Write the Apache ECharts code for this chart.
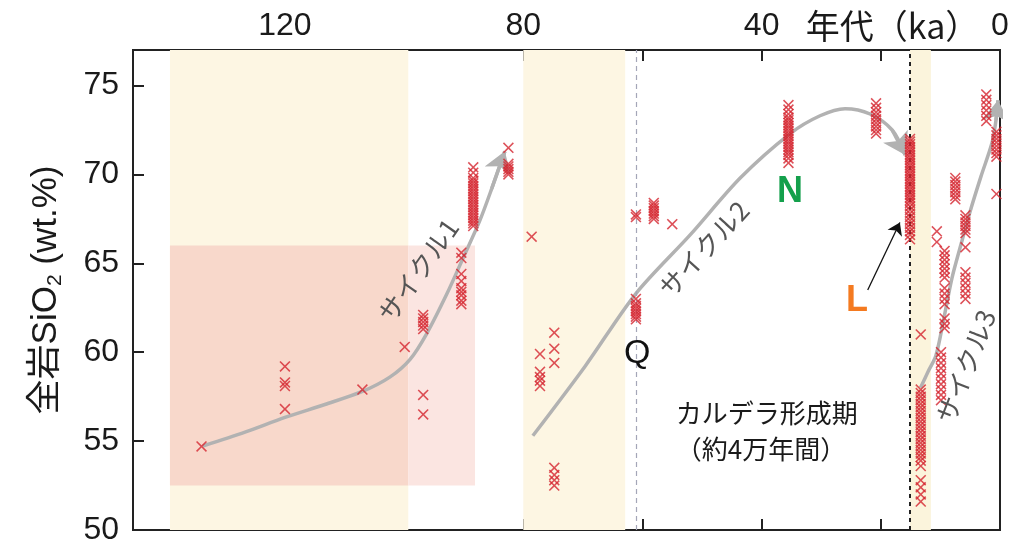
<!DOCTYPE html>
<html>
<head>
<meta charset="utf-8">
<script src="https://cdn.jsdelivr.net/npm/echarts@6/dist/echarts.min.js"></script>
<style>
  html, body { margin: 0; padding: 0; background: #fff; }
  #chart { width: 1036px; height: 546px; }
</style>
</head>
<body>
<div id="chart"></div>
<script>
// Eruption ages (ka) of the sampled units and their whole-rock SiO2 (wt.%)
const unitAges = [134.0, 120.0, 107.0, 99.9, 96.8, 90.4, 88.4, 82.5, 78.6, 77.2, 74.8,
                  61.1, 58.1, 55.0, 35.5, 20.8, 15.1, 13.3, 10.6, 9.3, 9.9, 7.5, 5.8, 2.3, 0.6];
const unitSiO2 = [
  [54.7],
  [59.2, 58.3, 58.1, 56.8],
  [57.9],
  [60.3],
  [62.1, 61.9, 61.7, 61.5, 61.3, 57.6, 56.5],
  [65.6, 65.3, 64.4, 64.0, 63.6, 63.4, 63.2, 62.9, 62.7],
  [70.4, 70.1, 69.8, 69.65, 69.5, 69.35, 69.2, 69.05, 68.9, 68.75, 68.6, 68.45, 68.3, 68.15, 68.0, 67.85, 67.7, 67.55, 67.4, 67.25, 67.1],
  [71.5, 70.6, 70.45, 70.3, 70.15, 70.0],
  [66.5],
  [59.9, 58.9, 58.6, 58.4, 58.1],
  [61.1, 60.2, 59.4, 53.5, 53.1, 52.8, 52.5],
  [67.75, 67.6, 63.0, 62.75, 62.6, 62.45, 62.3, 62.15, 62.0, 61.85],
  [68.4, 68.25, 68.1, 67.95, 67.8, 67.65, 67.5],
  [67.2],
  [73.9, 73.65, 73.4, 73.2, 73.05, 72.9, 72.75, 72.6, 72.45, 72.3, 72.15, 72.0, 71.85, 71.7, 71.55, 71.4, 71.25, 71.1, 70.9, 70.65],
  [74.0, 73.75, 73.5, 73.3, 73.1, 72.9, 72.7, 72.5, 72.3],
  [72.0, 71.85, 71.7, 71.55, 71.4, 71.25, 71.1, 70.95, 70.8, 70.65, 70.5, 70.35, 70.2, 70.05, 69.9, 69.75, 69.6, 69.45, 69.3, 69.15, 69.0, 68.85, 68.7, 68.55, 68.4, 68.2, 68.0, 67.8, 67.6, 67.4, 67.2, 67.0, 66.8, 66.6, 66.35],
  [61.0, 57.9, 57.7, 57.5, 57.3, 57.1, 56.9, 56.7, 56.5, 56.3, 56.1, 55.9, 55.7, 55.5, 55.3, 55.1, 54.9, 54.7, 54.5, 54.3, 54.1, 53.9, 53.6, 52.8, 52.4, 52.0, 51.6],
  [66.8, 66.2],
  [65.7, 65.45, 65.2, 64.95, 64.7, 64.45, 64.2, 63.6, 63.3, 63.0, 62.7, 61.9, 61.6, 61.35],
  [60.0, 59.7, 59.4, 59.1, 58.8, 58.5, 58.2, 57.9, 57.6, 57.3],
  [69.8, 69.6, 69.4, 69.2, 69.0, 68.8, 68.6],
  [67.7, 67.5, 67.3, 67.1, 66.9, 66.7, 65.9, 64.5, 64.2, 63.9, 63.6, 63.3, 63.0],
  [74.5, 74.2, 73.9, 73.6, 73.3, 73.0],
  [72.4, 72.2, 72.0, 71.8, 71.6, 71.4, 71.2, 71.0, 68.9]
];

// Trend paths of the three magmatic cycles [age, SiO2]
const cycle1Path = [[133.8, 54.72], [126.7, 55.5], [120.0, 56.33], [113.3, 57.06], [107.1, 57.78], [102.4, 58.6],
                    [99.0, 59.6], [96.2, 61.05], [92.8, 63.3], [90.1, 65.3], [87.3, 67.4], [85.3, 69.2], [83.1, 71.3]];
const cycle2Path = [[78.4, 55.3], [69.65, 59.2], [61.1, 63.3], [52.0, 66.6], [43.6, 69.8], [35.2, 72.3],
                    [30.2, 73.3], [26.0, 73.7], [21.8, 73.4], [18.1, 72.5], [15.9, 71.1]];
const cycle3Path = [[13.34, 58.0], [12.08, 58.9], [10.74, 59.83], [9.4, 61.94], [8.06, 64.17], [6.55, 66.06],
                    [5.04, 67.89], [3.19, 69.89], [1.34, 71.78], [0.67, 73.06], [0.34, 74.17]];

// Shaded age intervals [from, to] (ka)
const activeBand1 = [139.3, 99.3];
const activeBand2 = [80.0, 62.9];
const activeBand3 = [15.1, 11.6];
const maficBox = { ages: [139.3, 99.3, 88.1], sio2: [52.5, 66.0] };

// Reference ages marked with vertical lines
const markerQ = 61.1;
const markerL = 15.1;
const pointerL = [[22.2, 63.5], [16.8, 67.3]];

// Axis ticks and labels
const ageTicks = [0, 20, 40, 60, 80, 100, 120];
const ageLabels = [0, 40, 80, 120];
const sio2Ticks = [50, 55, 60, 65, 70, 75];

const samples = [];
unitAges.forEach((a, i) => unitSiO2[i].forEach(v => samples.push([a, v])));

const CROSS = 'path://M0,2L2,0L10,8L18,0L20,2L12,10L20,18L18,20L10,12L2,20L0,18L8,10Z';
const NUM_FONT = '"Liberation Sans", Arial, "Noto Sans CJK JP", sans-serif';
const JP_FONT = '"Noto Sans CJK JP", sans-serif';
const CURVE = '#b2b2b2';
const AXIS = '#222';

const baseX = {
  type: 'value', inverse: true, min: 0, max: 145.5,
  axisLine: { show: true, onZero: false, lineStyle: { color: AXIS, width: 2 } },
  axisTick: { show: true, inside: true, length: 11, customValues: ageTicks, lineStyle: { color: AXIS, width: 2 } },
  splitLine: { show: false }
};

const chart = echarts.init(document.getElementById('chart'));

const curveSeries = (path) => ({
  type: 'line', data: path, smooth: 0.3, showSymbol: false, symbol: 'none', z: 3,
  lineStyle: { color: CURVE, width: 3.5 }, silent: true
});

chart.setOption({
  animation: false,
  backgroundColor: '#fff',
  grid: { left: 133, right: 36, top: 50, bottom: 11, show: true, borderColor: AXIS, borderWidth: 2, backgroundColor: 'transparent' },
  xAxis: [
    Object.assign({}, baseX, {
      position: 'top',
      axisLabel: { margin: 8, fontSize: 32, color: '#1a1a1a', fontFamily: NUM_FONT, customValues: ageLabels }
    }),
    Object.assign({}, baseX, { position: 'bottom', axisLabel: { show: false } })
  ],
  yAxis: [
    {
      type: 'value', min: 50, max: 77, position: 'left',
      name: '全岩SiO{sub|2} (wt.%)', nameLocation: 'middle', nameGap: 67,
      nameTextStyle: {
        fontSize: 35, color: '#1a1a1a', fontFamily: NUM_FONT,
        rich: { sub: { fontSize: 21, color: '#1a1a1a', fontFamily: NUM_FONT, padding: [18, 0, 0, 0] } }
      },
      axisLine: { show: true, onZero: false, lineStyle: { color: AXIS, width: 2 } },
      axisTick: { show: true, inside: true, length: 11, customValues: sio2Ticks, lineStyle: { color: AXIS, width: 2 } },
      axisLabel: { margin: 14, fontSize: 32, color: '#1a1a1a', fontFamily: NUM_FONT, customValues: sio2Ticks },
      splitLine: { show: false }
    }
  ],
  series: [
    {
      // shaded periods and reference lines
      type: 'line', data: [], z: 1, silent: true,
      markArea: {
        silent: true,
        data: [
          [{ xAxis: activeBand1[0], yAxis: 50, itemStyle: { color: '#fdf6e3' } }, { xAxis: activeBand1[1], yAxis: 77 }],
          [{ xAxis: maficBox.ages[0], yAxis: maficBox.sio2[0], itemStyle: { color: '#f8d8cb' } }, { xAxis: maficBox.ages[1], yAxis: maficBox.sio2[1] }],
          [{ xAxis: maficBox.ages[1], yAxis: maficBox.sio2[0], itemStyle: { color: '#fbe5e1' } }, { xAxis: maficBox.ages[2], yAxis: maficBox.sio2[1] }],
          [{ xAxis: activeBand2[0], yAxis: 50, itemStyle: { color: '#fdf6e3' } }, { xAxis: activeBand2[1], yAxis: 77 }],
          [{ xAxis: activeBand3[0], yAxis: 50, itemStyle: { color: '#fbf4dc' } }, { xAxis: activeBand3[1], yAxis: 77 }]
        ]
      },
      markLine: {
        silent: true, symbol: ['none', 'none'], label: { show: false },
        data: [
          { xAxis: markerQ, lineStyle: { color: '#a4a6b8', width: 1.2, type: [5, 4] } },
          { xAxis: markerL, lineStyle: { color: '#222', width: 2, type: [4, 4] } }
        ]
      }
    },
    curveSeries(cycle1Path),
    curveSeries(cycle2Path),
    curveSeries(cycle3Path),
    {
      // arrow heads at the end of each cycle path
      type: 'lines', coordinateSystem: 'cartesian2d', z: 3, silent: true,
      symbol: ['none', 'arrow'], symbolSize: 21,
      lineStyle: { color: CURVE, width: 3.5, opacity: 1 },
      data: [cycle1Path, cycle2Path, cycle3Path].map(p => ({ coords: p.slice(-2) }))
    },
    {
      type: 'lines', coordinateSystem: 'cartesian2d', z: 6, silent: true,
      symbol: ['none', 'arrow'], symbolSize: 12,
      lineStyle: { color: '#111', width: 1.3, opacity: 1 },
      data: [{ coords: pointerL }]
    },
    {
      type: 'scatter', data: samples, z: 5, symbol: CROSS, symbolSize: 11,
      itemStyle: { color: '#d5262f' }, silent: true
    }
  ]
});

// Text annotations placed at data coordinates
const notes = [
  { text: 'サイクル1', at: [97.6, 64.6], rot: 55, size: 26, color: '#555', font: JP_FONT },
  { text: 'サイクル2', at: [49.7, 65.8], rot: 47.5, size: 26, color: '#555', font: JP_FONT },
  { text: 'サイクル3', at: [5.7, 59.2], rot: 68.6, size: 26, color: '#555', font: JP_FONT },
  { text: 'N', at: [35.25, 69.0], rot: 0, size: 36, color: '#14a04c', font: NUM_FONT, weight: 'bold' },
  { text: 'L', at: [24.0, 62.9], rot: 0, size: 36, color: '#f47a20', font: NUM_FONT, weight: 'bold' },
  { text: 'Q', at: [60.9, 59.9], rot: 0, size: 34, color: '#111', font: NUM_FONT }
];
const leftNotes = [
  { text: 'カルデラ形成期', at: [54.4, 56.6], size: 26 },
  { text: '（約4万年間）', at: [54.4, 54.55], size: 26 },
  { text: '年代（ka）', at: [32.6, 78.35], size: 34 }
];

const px = p => chart.convertToPixel({ gridIndex: 0 }, p);
const graphic = [];
notes.forEach(n => {
  const [x, y] = px(n.at);
  graphic.push({
    type: 'text', x, y, rotation: n.rot * Math.PI / 180, z: 10, silent: true,
    style: {
      text: n.text, fill: n.color, fontSize: n.size, fontFamily: n.font,
      fontWeight: n.weight || 'normal', align: 'center', verticalAlign: 'middle'
    }
  });
});
leftNotes.forEach(n => {
  const [x, y] = px(n.at);
  graphic.push({
    type: 'text', x, y, z: 10, silent: true,
    style: {
      text: n.text, fill: '#1a1a1a', fontSize: n.size, fontFamily: JP_FONT,
      align: 'left', verticalAlign: 'middle'
    }
  });
});
chart.setOption({ graphic });
</script>
</body>
</html>
